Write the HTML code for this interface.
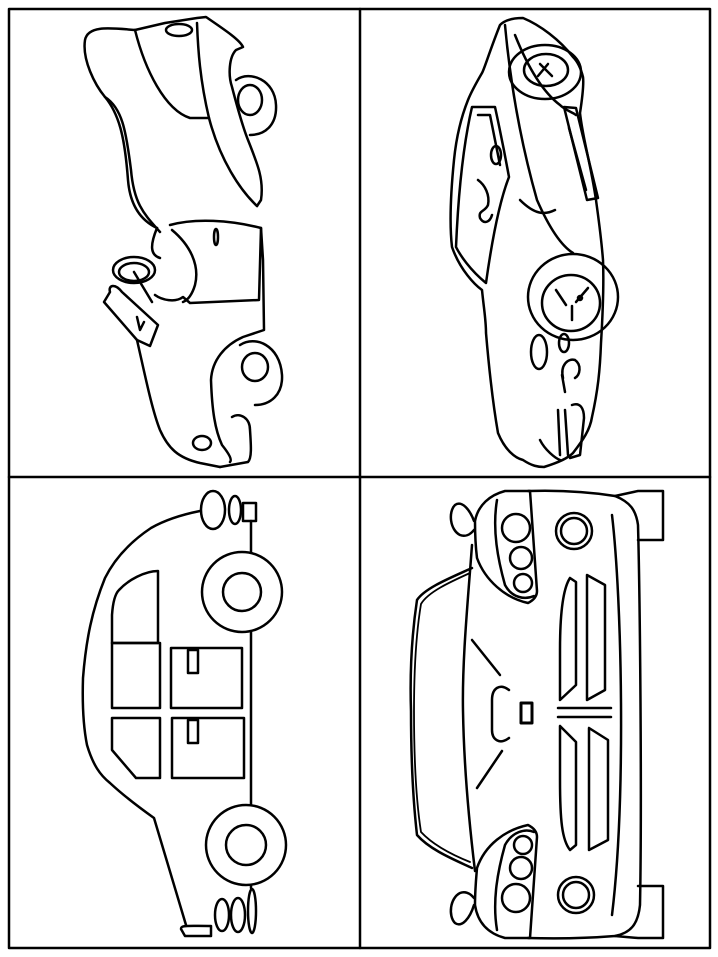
<!DOCTYPE html>
<html><head><meta charset="utf-8"><style>html,body{margin:0;padding:0;background:#fff}svg{display:block}</style></head><body>
<svg width="718" height="957" viewBox="0 0 718 957" xmlns="http://www.w3.org/2000/svg" fill="none" stroke="#000" stroke-width="2.5" stroke-linejoin="round" stroke-linecap="round">
<rect x="9" y="9" width="701" height="939" stroke-width="2.5"/>
<line x1="360" y1="9" x2="360" y2="948" stroke-width="2.5"/>
<line x1="9" y1="477" x2="710" y2="477" stroke-width="2.5"/>

<!-- TOP LEFT: old car -->
<path d="M135,30 C110,28 88,25 85,40 C82,60 95,85 105,97 C120,115 125,140 128,180 C130,205 140,220 157,228"/>
<path d="M105,97 C122,108 126,130 131,170 C134,205 145,215 160,232"/>
<path d="M135,30 C145,70 165,110 190,118 L209,118 C200,80 198,50 197,23"/>
<path d="M135,30 L165,23 L197,18 L206,17 C225,30 240,40 243,47 L236,50 C229,57 228,75 232,87 C238,110 244,130 248,140 C258,165 264,180 261,200 L257,206"/>
<path d="M209,118 C220,160 240,190 257,206"/>
<ellipse cx="179" cy="30" rx="13" ry="6"/>
<path d="M236,80 C250,70 275,80 276,105 C277,125 265,135 250,135"/>
<ellipse cx="250" cy="100" rx="12" ry="15"/>
<path d="M170,225 C195,218 230,220 261,228 L259,300 L190,303 L183,297 C175,303 162,300 155,295"/>
<path d="M172,230 C190,245 200,265 195,285 C192,295 188,300 183,302"/>
<ellipse cx="216" cy="237" rx="2" ry="8"/>
<path d="M157,228 C150,245 150,255 160,258"/>
<ellipse cx="134" cy="270" rx="21" ry="13"/>
<ellipse cx="134" cy="272" rx="15" ry="9"/>
<line x1="134" y1="272" x2="152" y2="302"/>
<path d="M110,292 C108,285 115,283 122,292 L158,325 L150,346 L137,340 L104,302 Z"/>
<path d="M137,317 L140,330 L144,322"/>
<path d="M137,340 C145,375 152,410 160,430 C168,448 178,458 200,463 L220,467"/>
<path d="M261,228 L263,260 L264,330 L243,337 C225,345 212,360 211,380 C212,410 215,430 222,445 C230,455 232,460 230,462"/>
<path d="M240,345 C255,335 280,345 282,375 C283,395 270,405 255,405"/>
<ellipse cx="255" cy="367" rx="13" ry="14"/>
<path d="M232,417 C240,412 250,418 250,430 C251,445 252,458 248,462 L220,467"/>
<ellipse cx="202" cy="443" rx="9" ry="7"/>

<!-- TOP RIGHT: sports car -->
<path d="M500,25 C490,50 484,70 482,73 C475,85 470,95 468,100 C460,120 456,140 454,160 C450,200 450,230 452,247 C460,270 475,285 482,290 C484,310 486,320 486,333 C490,380 494,410 498,433 C505,450 515,458 523,460 C532,466 538,467 544,467 C560,462 568,458 573,453 C583,440 590,430 592,417 C598,390 600,370 601,343 C603,310 604,285 603,260 C601,235 598,215 596,200 C590,160 583,140 580,113 C582,100 584,85 583,77 C580,65 576,60 573,57 C560,40 540,25 523,18 C512,18 505,20 500,25 Z"/>
<path d="M505,25 C510,80 520,140 537,200 C548,225 560,245 573,253"/>
<path d="M515,35 C525,60 540,90 560,105 C565,110 572,112 576,115"/>
<ellipse cx="545" cy="72" rx="36" ry="27"/>
<ellipse cx="546" cy="70" rx="22" ry="16"/>
<path d="M540,64 L552,76 M548,64 L538,76"/>
<path d="M564,107 L587,200 L598,198 L576,108 Z"/>
<path d="M569,128 L586,190"/>
<path d="M472,107 L495,107 C500,130 505,155 509,177 C500,200 492,240 486,283 C470,270 460,255 456,247 C458,200 462,150 472,107 Z"/>
<path d="M478,115 L490,115 L500,165"/>
<ellipse cx="496" cy="155" rx="5" ry="9"/>
<path d="M478,180 C485,185 490,195 488,205 C485,212 478,210 480,218 C484,225 490,222 492,215"/>
<path d="M520,200 C535,215 545,215 555,210"/>
<ellipse cx="573" cy="297" rx="45" ry="43"/>
<ellipse cx="571" cy="303" rx="29" ry="28"/>
<path d="M556,290 L566,305 M588,288 L576,302 M572,320 L572,306"/>
<circle cx="580" cy="298" r="2"/>
<ellipse cx="539" cy="352" rx="8" ry="17"/>
<ellipse cx="564" cy="343" rx="5" ry="9"/>
<path d="M563,378 C560,365 568,358 575,360 C582,365 580,375 575,378"/>
<path d="M562,375 L565,392"/>
<path d="M558,410 L560,455 M565,410 L568,455 M572,405 C580,402 584,408 584,418 L580,455 L570,458"/>
<path d="M540,440 C545,450 555,458 560,460"/>

<!-- BOTTOM LEFT: small car -->
<path d="M200,511 C180,515 165,520 151,528 C130,542 115,558 105,578 C92,610 86,640 83,678 C82,710 84,730 87,745 C93,765 100,775 110,783 C125,797 140,808 154,818 L186,925"/>
<line x1="251" y1="521" x2="251" y2="552"/>
<line x1="251" y1="632" x2="251" y2="805"/>
<line x1="251" y1="885" x2="251" y2="888"/>
<circle cx="242" cy="592" r="40"/>
<circle cx="242" cy="592" r="19"/>
<circle cx="246" cy="845" r="40"/>
<circle cx="246" cy="845" r="20"/>
<ellipse cx="213" cy="510" rx="12" ry="19"/>
<ellipse cx="235" cy="510" rx="6" ry="14"/>
<rect x="243" y="503" width="13" height="18"/>
<ellipse cx="222" cy="915" rx="7" ry="16"/>
<ellipse cx="238" cy="915" rx="7" ry="17"/>
<ellipse cx="252" cy="911" rx="4" ry="22"/>
<path d="M181,929 C181,925 185,926 211,926 L211,936 L185,936 Z"/>
<path d="M158,571 L158,643 L112,643 L112,615 C113,600 116,593 119,590 C128,580 145,571 158,571 Z"/>
<rect x="112" y="643" width="48" height="65"/>
<rect x="171" y="648" width="71" height="60"/>
<rect x="188" y="650" width="10" height="23"/>
<path d="M112,718 L160,718 L160,778 L136,778 L112,750 Z"/>
<rect x="172" y="718" width="72" height="60"/>
<rect x="188" y="720" width="10" height="23"/>

<!-- BOTTOM RIGHT: front-view car -->
<path d="M615,496 L638,491 L663,491 L663,540 L638,540"/>
<path d="M638,886 L663,886 L663,938 L638,938 L615,936"/>
<path d="M528,491 C560,490 590,492 615,496 C630,502 636,510 638,525 C640,600 642,800 640,905 C638,925 630,933 615,936 C590,938 560,939 528,938"/>
<path d="M612,515 C622,600 626,800 612,915"/>
<path d="M505,491 C490,495 478,505 475,521 C475,540 476,550 477,558 C485,580 505,598 528,603 C534,600 537,596 537,591 L530,491 Z"/>
<path d="M497,500 C492,530 498,560 505,585 C512,598 525,600 534,596"/>
<circle cx="516" cy="528" r="14"/>
<circle cx="521" cy="558" r="11"/>
<circle cx="523" cy="583" r="9"/>
<path d="M474,521 C470,510 462,500 455,505 C448,512 450,530 460,535 C465,537 470,535 474,530"/>
<path d="M505,938 C490,934 478,925 475,905 C475,890 476,880 477,868 C485,845 505,830 528,825 C534,828 537,832 537,837 L530,938 Z"/>
<path d="M497,930 C492,900 498,870 505,845 C512,832 525,828 534,832"/>
<circle cx="523" cy="845" r="9"/>
<circle cx="521" cy="868" r="11"/>
<circle cx="516" cy="898" r="14"/>
<path d="M474,905 C470,918 462,928 455,923 C448,916 450,898 460,893 C465,891 470,893 474,898"/>
<circle cx="574" cy="531" r="18"/>
<circle cx="574" cy="531" r="13"/>
<circle cx="576" cy="895" r="18"/>
<circle cx="576" cy="895" r="13"/>
<path d="M570,578 C562,590 560,620 560,650 L560,700 L576,685 L576,582 Z"/>
<path d="M587,575 L587,700 L605,690 L605,585 Z"/>
<path d="M560,726 L560,780 C560,820 562,840 570,850 L576,845 L576,742 Z"/>
<path d="M589,728 L589,850 L608,840 L608,740 Z"/>
<line x1="558" y1="708" x2="611" y2="708"/>
<line x1="558" y1="717" x2="611" y2="717"/>
<path d="M472,568 C450,578 425,588 417,600 C411,640 410,680 411,711 C411,760 413,800 417,835 C430,850 455,860 472,868"/>
<path d="M470,573 C450,582 428,592 421,604 C415,640 414,680 414,711 C414,760 416,800 421,832 C434,846 455,856 470,862" stroke-width="1.8"/>
<path d="M472,545 C468,600 462,660 463,711 C464,770 470,830 475,871"/>
<line x1="472" y1="640" x2="500" y2="675"/>
<line x1="502" y1="751" x2="477" y2="788"/>
<path d="M509,690 C500,683 492,688 492,700 L492,730 C492,740 500,745 509,738"/>
<rect x="521" y="703" width="11" height="20" stroke-width="3"/>
</svg>
</body></html>
